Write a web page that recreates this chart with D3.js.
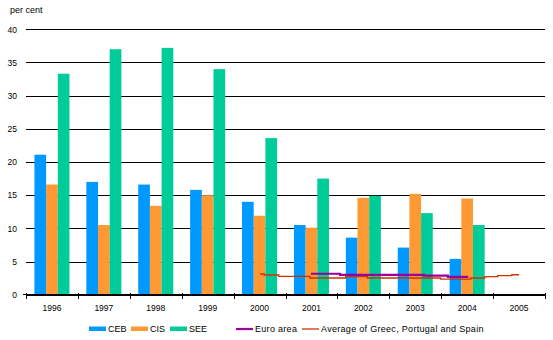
<!DOCTYPE html>
<html><head><meta charset="utf-8">
<script src="https://cdn.jsdelivr.net/npm/d3@7"></script>
<style>
html,body{margin:0;padding:0;background:#fff;}
svg{display:block;font-family:"Liberation Sans",Arial,sans-serif;}
</style></head>
<body><svg id="c" width="553" height="340"></svg>
<script>
const years = ["1996","1997","1998","1999","2000","2001","2002","2003","2004","2005"];
const ceb = [21.1, 17.0, 16.6, 15.8, 14.0, 10.5, 8.6, 7.1, 5.4, null];
const cis = [16.6, 10.5, 13.4, 15.0, 11.9, 10.1, 14.6, 15.2, 14.5, null];
const see = [33.3, 37.0, 37.2, 34.0, 23.6, 17.5, 14.9, 12.3, 10.5, null];
const yTicks = [0,5,10,15,20,25,30,35,40];
// step lines: time in fractional years (category start = year)
const euroTime = [2001.49, 2002.05, 2003.67, 2004.13, 2004.52];
const euroVal  = [3.16, 3.0, 2.86, 2.7, 2.7];
const avgTime = [2000.51, 2000.59, 2000.87, 2001.47, 2002.16, 2002.58, 2003.99, 2004.57, 2004.84, 2005.09, 2005.36, 2005.50];
const avgVal  = [3.12, 2.97, 2.76, 2.52, 2.71, 2.52, 2.36, 2.52, 2.71, 2.86, 3.01, 3.01];
const seriesNames = ["CEB","CIS","SEE"];
const colors = {CEB:"#0099FF", CIS:"#FF9933", SEE:"#00CC99", Euro:"#990099", Avg:"#CC3300"};

const svg = d3.select("#c");
const L = 26, R = 545, T = 29.3, B = 294.7;
const x = d3.scaleBand().domain(years).range([L,R]).paddingInner(0.325).paddingOuter(0.1625);
const xs = d3.scaleBand().domain(seriesNames).range([0, x.bandwidth()]);
const xt = d3.scaleLinear().domain([1996,2006]).range([L,R]);
const y = d3.scaleLinear().domain([0,40]).range([B,T]);

// gridlines + y labels
const ya = svg.append("g").attr("transform",`translate(${L},0)`)
  .call(d3.axisLeft(y).tickValues(yTicks).tickSize(-(R-L)).tickPadding(9));
ya.select(".domain").remove();
ya.selectAll(".tick line").attr("stroke","#000").attr("stroke-width",1).attr("shape-rendering","crispEdges");
ya.selectAll(".tick text").attr("font-size","8.5px").attr("fill","#000").attr("font-family","Liberation Sans, Arial, sans-serif");
// small left tick at 0
svg.append("line").attr("x1",L-3).attr("x2",L).attr("y1",y(0)).attr("y2",y(0)).attr("stroke","#000").attr("shape-rendering","crispEdges");

svg.append("text").attr("x",10).attr("y",13).attr("font-size","9px").text("per cent");

// bars
const data = years.map((yr,i)=>({yr, vals:[["CEB",ceb[i]],["CIS",cis[i]],["SEE",see[i]]]}));
const g = svg.append("g");
g.selectAll("g.grp").data(data).join("g").attr("class","grp")
  .attr("transform",d=>`translate(${x(d.yr)},0)`)
  .selectAll("rect").data(d=>d.vals.filter(v=>v[1]!=null)).join("rect")
  .attr("x",d=>xs(d[0])).attr("width",xs.bandwidth())
  .attr("y",d=>y(d[1])).attr("height",d=>y(0)-y(d[1]))
  .attr("fill",d=>colors[d[0]]);

// x axis
svg.append("line").attr("x1",L).attr("x2",R).attr("y1",y(0)).attr("y2",y(0)).attr("stroke","#000").attr("shape-rendering","crispEdges");
const xa = svg.append("g").attr("transform",`translate(0,${y(0)})`)
  .call(d3.axisBottom(xt).tickValues(d3.range(1996,2007)).tickFormat("").tickSize(4));
xa.select(".domain").remove();
xa.selectAll(".tick line").attr("y1",-2).attr("stroke","#000").attr("shape-rendering","crispEdges");
const xl = svg.append("g").attr("transform",`translate(0,${y(0)})`)
  .call(d3.axisBottom(x).tickSize(0).tickPadding(10));
xl.select(".domain").remove();
xl.selectAll("text").attr("font-size","8.5px").attr("fill","#000").attr("font-family","Liberation Sans, Arial, sans-serif");

// lines
const line = d3.line().x(d=>xt(d[0])).y(d=>y(d[1])).curve(d3.curveStepAfter);
svg.append("path").datum(avgTime.map((t,i)=>[t,avgVal[i]]))
  .attr("d",line).attr("fill","none").attr("stroke",colors.Avg).attr("stroke-width",1.3);
svg.append("path").datum(euroTime.map((t,i)=>[t,euroVal[i]]))
  .attr("d",line).attr("fill","none").attr("stroke",colors.Euro).attr("stroke-width",2.2);

// legend
const leg = svg.append("g").attr("font-size","9px");
const legItems = [
  {name:"CEB", type:"rect", c:colors.CEB, x:89},
  {name:"CIS", type:"rect", c:colors.CIS, x:131},
  {name:"SEE", type:"rect", c:colors.SEE, x:170},
  {name:"Euro area", type:"line", c:colors.Euro, x:236, w:2.2},
  {name:"Average of Greec, Portugal and Spain", type:"line", c:colors.Avg, x:302, w:1.3}
];
const ly = 329;
legItems.forEach(it=>{
  if(it.type==="rect"){
    leg.append("rect").attr("x",it.x).attr("y",ly-2.5).attr("width",17).attr("height",4.5).attr("fill",it.c);
  } else {
    leg.append("line").attr("x1",it.x).attr("x2",it.x+17).attr("y1",ly).attr("y2",ly).attr("stroke",it.c).attr("stroke-width",it.w);
  }
  leg.append("text").attr("x",it.x+19).attr("y",ly+3).attr("letter-spacing", it.type==="line" ? "0.3px" : "0").text(it.name);
});
</script></body></html>
